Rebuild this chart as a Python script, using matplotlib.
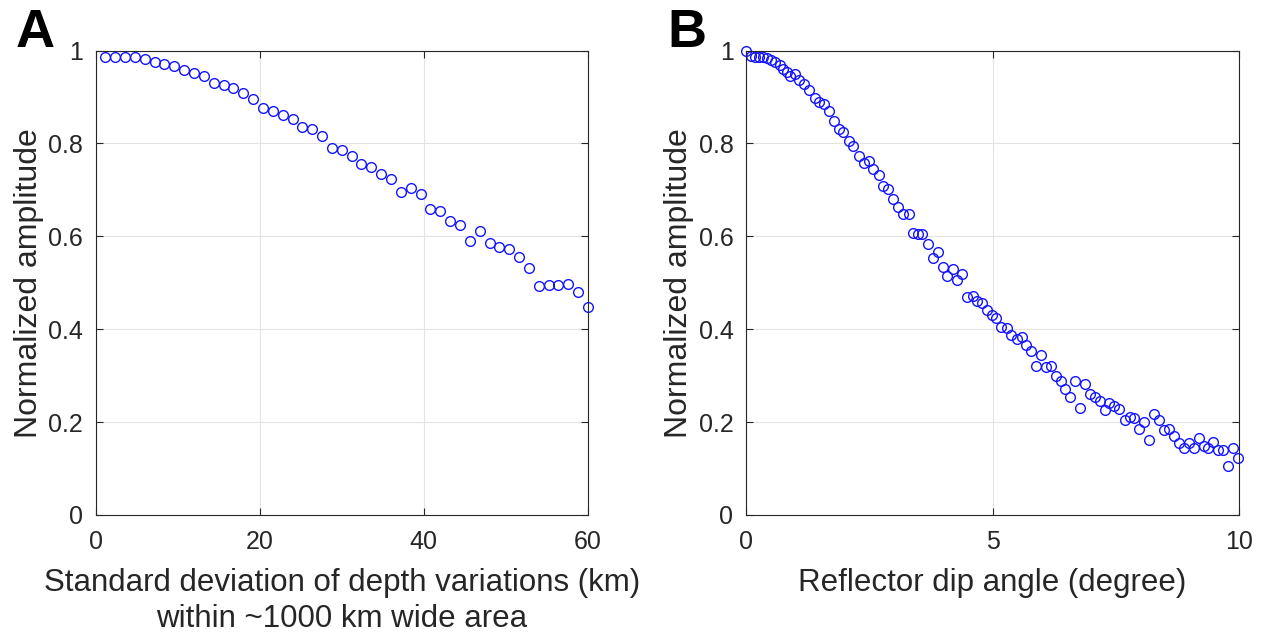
import matplotlib
matplotlib.use("Agg")
import matplotlib.pyplot as plt
from matplotlib.ticker import FuncFormatter

plt.rcParams['font.family'] = ['Liberation Sans', 'DejaVu Sans']

# ---- Panel A data ----
std_depth_km = [1.2 * k for k in range(1, 51)]
amp_a = [0.987, 0.987, 0.987, 0.986, 0.981, 0.976, 0.971, 0.966, 0.957, 0.951,
         0.945, 0.931, 0.925, 0.919, 0.908, 0.895, 0.877, 0.869, 0.862, 0.852,
         0.836, 0.832, 0.816, 0.791, 0.786, 0.772, 0.756, 0.750, 0.734, 0.724,
         0.696, 0.705, 0.690, 0.659, 0.654, 0.633, 0.625, 0.590, 0.612, 0.586,
         0.577, 0.573, 0.555, 0.532, 0.492, 0.496, 0.496, 0.498, 0.480, 0.447]

# ---- Panel B data ----
dip_deg = [0, 0.1, 0.19, 0.27, 0.35, 0.43, 0.51, 0.59, 0.68, 0.76, 0.83, 0.90,
           0.99, 1.07, 1.18, 1.28, 1.39, 1.49, 1.59, 1.69,
           1.79, 1.88, 1.97, 2.08, 2.18, 2.30, 2.39, 2.49, 2.58, 2.69, 2.78, 2.89,
           2.99, 3.09, 3.19, 3.30, 3.39, 3.48, 3.58, 3.69, 3.79, 3.89,
           3.99, 4.08, 4.19, 4.29, 4.39, 4.48, 4.60, 4.68, 4.79, 4.88,
           4.98, 5.08, 5.18, 5.29, 5.38, 5.49, 5.59, 5.68, 5.79, 5.88,
           5.98, 6.08, 6.19, 6.29, 6.39, 6.48, 6.58, 6.68, 6.78, 6.88,
           6.98, 7.08, 7.18, 7.28, 7.37, 7.47, 7.57, 7.68, 7.78, 7.88,
           7.98, 8.08, 8.18, 8.28, 8.38, 8.48, 8.59, 8.68, 8.78, 8.88,
           8.98, 9.08, 9.18, 9.28, 9.38, 9.48, 9.58, 9.68, 9.77, 9.88,
           9.98]
amp_b = [0.998, 0.988, 0.986, 0.986, 0.985, 0.983, 0.980, 0.975, 0.968, 0.961, 0.953, 0.945,
         0.950, 0.936, 0.927, 0.916, 0.897, 0.890, 0.884, 0.869,
         0.848, 0.831, 0.825, 0.806, 0.794, 0.773, 0.758, 0.762, 0.744, 0.732, 0.709, 0.702,
         0.680, 0.664, 0.648, 0.649, 0.608, 0.604, 0.604, 0.583, 0.554, 0.567,
         0.533, 0.515, 0.529, 0.505, 0.518, 0.469, 0.472, 0.461, 0.457, 0.441,
         0.431, 0.424, 0.404, 0.402, 0.388, 0.378, 0.384, 0.365, 0.354, 0.321,
         0.344, 0.319, 0.320, 0.299, 0.289, 0.272, 0.255, 0.289, 0.231, 0.282,
         0.261, 0.254, 0.246, 0.226, 0.241, 0.234, 0.229, 0.205, 0.210, 0.209,
         0.185, 0.201, 0.162, 0.217, 0.205, 0.183, 0.186, 0.169, 0.155, 0.144,
         0.155, 0.144, 0.165, 0.149, 0.144, 0.158, 0.139, 0.139, 0.106, 0.145,
         0.123]

yticks = [0, 0.2, 0.4, 0.6, 0.8, 1.0]
xticks_a = [0, 20, 40, 60]
xticks_b = [0, 5, 10]

W, H = 1266, 636
fig = plt.figure(figsize=(W / 100, H / 100), dpi=100)

TXT = '#262626'

def style(ax, xlim, xticks):
    ax.set_xlim(*xlim)
    ax.set_ylim(0, 1)
    ax.set_xticks(xticks)
    ax.set_yticks(yticks)
    ax.yaxis.set_major_formatter(FuncFormatter(lambda v, p: f"{v:g}"))
    ax.grid(True, color='#e3e3e3', linewidth=0.8)
    ax.set_axisbelow(True)
    for s in ax.spines.values():
        s.set_color(TXT)
        s.set_linewidth(0.8)
    ax.tick_params(direction='in', top=True, right=True, length=5, width=0.8,
                   color=TXT, labelsize=18, labelcolor=TXT)
    ax.tick_params(axis='x', pad=11)
    ax.tick_params(axis='y', pad=9)

axA = fig.add_axes([95.5 / W, (H - 515) / H, 492.5 / W, 464.5 / H])
axA.plot(std_depth_km, amp_a, 'o', mfc='none', mec='#1414ff', ms=7, mew=1.0, clip_on=False)
style(axA, (0, 60), xticks_a)
axA.set_ylabel('Normalized amplitude', fontsize=23, color=TXT, labelpad=3)
axA.set_xlabel('Standard deviation of depth variations (km)\nwithin ~1000 km wide area',
               fontsize=22.5, color=TXT, linespacing=1.25, labelpad=10)

axB = fig.add_axes([746 / W, (H - 515) / H, 493 / W, 464.5 / H])
axB.plot(dip_deg, amp_b, 'o', mfc='none', mec='#1414ff', ms=7, mew=1.0, clip_on=False)
style(axB, (0, 10), xticks_b)
axB.set_ylabel('Normalized amplitude', fontsize=23, color=TXT, labelpad=3)
axB.set_xlabel('Reflector dip angle (degree)', fontsize=22.5, color=TXT, labelpad=10)

fig.text(16 / W, 1 - 47 / H, 'A', fontsize=39, fontweight='bold', ha='left', va='baseline')
fig.text(667 / W, 1 - 47 / H, 'B', fontsize=39, fontweight='bold', ha='left', va='baseline')

fig.savefig('out.png', dpi=100)
